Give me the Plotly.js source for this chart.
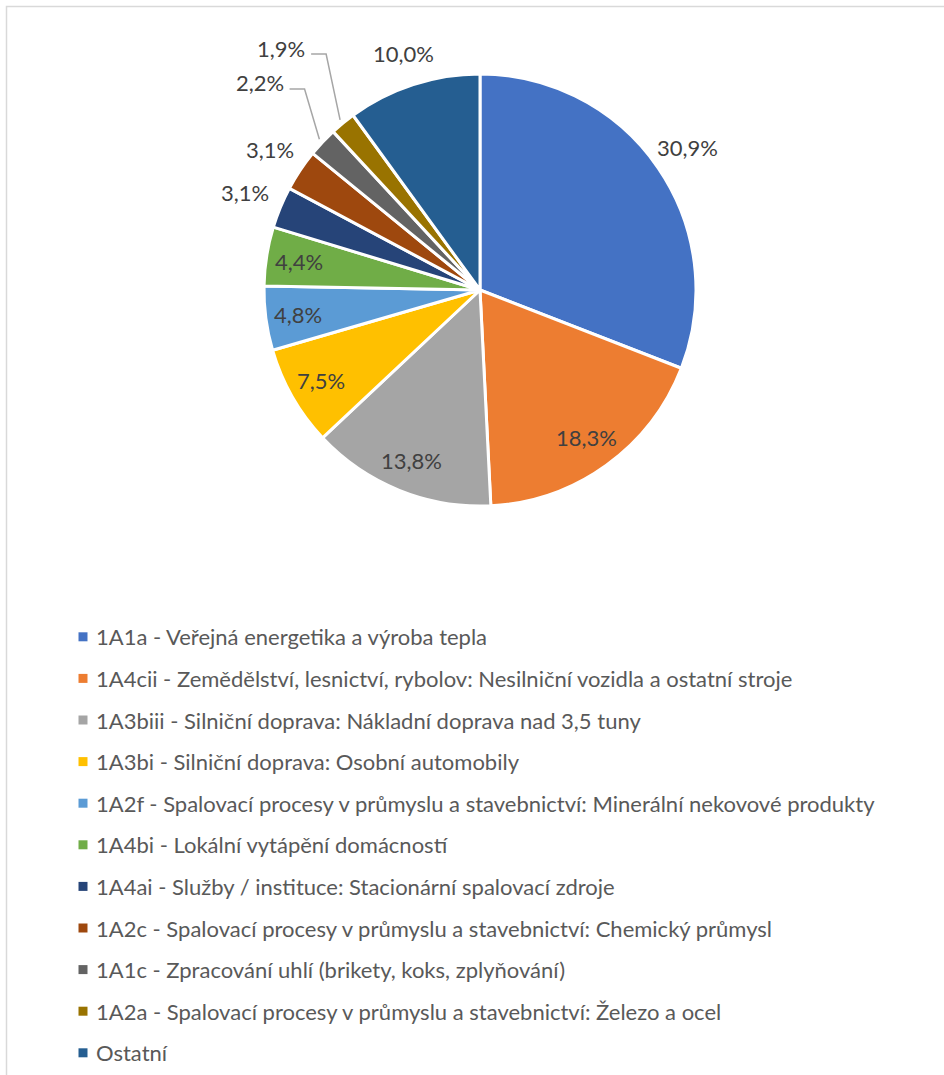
<!DOCTYPE html>
<html>
<head>
<meta charset="utf-8">
<script src="https://cdn.plot.ly/plotly-3.0.1.min.js"></script>
<style>
  html, body { margin: 0; padding: 0; background: #ffffff; }
  #chart { width: 944px; height: 1075px; }
  /* pull legend text a little closer to its colour swatch */
  #chart .legend .legendtext { transform: translateX(-7px); }
</style>
</head>
<body>
<div id="chart"></div>
<script>
// Emission source categories and their shares (%)
const categories = [
  '1A1a - Veřejná energetika a výroba tepla',
  '1A4cii - Zemědělství, lesnictví, rybolov: Nesilniční vozidla a ostatní stroje',
  '1A3biii - Silniční doprava: Nákladní doprava nad 3,5 tuny',
  '1A3bi - Silniční doprava: Osobní automobily',
  '1A2f - Spalovací procesy v průmyslu a stavebnictví: Minerální nekovové produkty',
  '1A4bi - Lokální vytápění domácností',
  '1A4ai - Služby / instituce: Stacionární spalovací zdroje',
  '1A2c - Spalovací procesy v průmyslu a stavebnictví: Chemický průmysl',
  '1A1c - Zpracování uhlí (brikety, koks, zplyňování)',
  '1A2a - Spalovací procesy v průmyslu a stavebnictví: Železo a ocel',
  'Ostatní'
];
const shares = [30.9, 18.3, 13.8, 7.5, 4.8, 4.4, 3.1, 3.1, 2.2, 1.9, 10.0];
const colors = ['#4472C4', '#ED7D31', '#A5A5A5', '#FFC000', '#5B9BD5', '#70AD47',
                '#264478', '#9E480E', '#636363', '#997300', '#255E91'];

// Label placement: distance from the centre as a multiple of the pie radius,
// and whether a leader line joins the label to its slice
const labelRadius = [1.165, 0.84, 0.85, 0.85, 0.85, 0.85, 1.18, 1.17, 1.40, 1.45, 1.15];
const leaderLine  = [false, false, false, false, false, false, false, false, true, true, false];

const W = 944, H = 1075;
const cx = 480, cy = 290, r = 216;

const fontFamily = 'Lato, sans-serif';
const toPaperX = px => px / W;
const toPaperY = py => 1 - py / H;

const pie = {
  type: 'pie',
  labels: categories,
  values: shares,
  sort: false,
  direction: 'clockwise',
  rotation: 0,
  marker: { colors: colors, line: { color: '#ffffff', width: 3 } },
  textinfo: 'none',
  automargin: false,
  hoverinfo: 'label+value',
  showlegend: false,
  domain: {
    x: [toPaperX(cx - r), toPaperX(cx + r)],
    y: [toPaperY(cy + r), toPaperY(cy - r)]
  }
};

// Value labels placed along each slice's middle angle
const total = shares.reduce((a, b) => a + b, 0);
const annotations = [];
const shapes = [];
let cum = 0;
shares.forEach((v, i) => {
  const theta = 2 * Math.PI * (cum + v / 2) / total;   // clockwise from 12 o'clock
  cum += v;
  const rho = labelRadius[i] * r;
  const lx = cx + rho * Math.sin(theta);
  const ly = cy - rho * Math.cos(theta);
  annotations.push({
    xref: 'paper', yref: 'paper',
    x: toPaperX(lx), y: toPaperY(ly),
    xanchor: 'center', yanchor: 'middle',
    text: v.toFixed(1).replace('.', ',') + '%',
    showarrow: false,
    font: { family: fontFamily, size: 22, color: '#404040' }
  });
  if (leaderLine[i]) {
    const ex = cx + 1.02 * r * Math.sin(theta);
    const ey = cy - 1.02 * r * Math.cos(theta);
    const sx = lx + 30, bx = lx + 45, by = ly + 6;
    shapes.push({
      type: 'path', xref: 'paper', yref: 'paper',
      path: `M ${toPaperX(sx)} ${toPaperY(by)} L ${toPaperX(bx)} ${toPaperY(by)} L ${toPaperX(ex)} ${toPaperY(ey)}`,
      line: { color: '#A6A6A6', width: 1.5 }
    });
  }
});

// Outer frame (top and left edges show inside the page)
shapes.push({
  type: 'rect', xref: 'paper', yref: 'paper',
  x0: toPaperX(6.5), x1: 1.1, y0: -0.1, y1: toPaperY(6.5),
  line: { color: '#D9D9D9', width: 1.5 }, layer: 'below'
});

// Legend entries: one marker-only trace per category so each row can be spaced
const legendTraces = categories.map((name, i) => ({
  type: 'scatter',
  mode: 'markers',
  x: [null],
  y: [null],
  name: name,
  legendgroup: 'g' + i,
  marker: { symbol: 'square', size: 9, color: colors[i] },
  hoverinfo: 'skip',
  showlegend: true
}));

const layout = {
  width: W,
  height: H,
  margin: { l: 0, r: 0, t: 0, b: 0 },
  paper_bgcolor: '#ffffff',
  plot_bgcolor: '#ffffff',
  xaxis: { visible: false },
  yaxis: { visible: false },
  showlegend: true,
  legend: {
    x: toPaperX(63),
    xanchor: 'left',
    y: toPaperY(616),
    yanchor: 'top',
    traceorder: 'grouped',
    tracegroupgap: 10,
    font: { family: fontFamily, size: 22, color: '#595959' },
    bgcolor: 'rgba(0,0,0,0)'
  },
  annotations: annotations,
  shapes: shapes
};

Plotly.newPlot('chart', [pie].concat(legendTraces), layout, { displayModeBar: false, staticPlot: true });
</script>
</body>
</html>
